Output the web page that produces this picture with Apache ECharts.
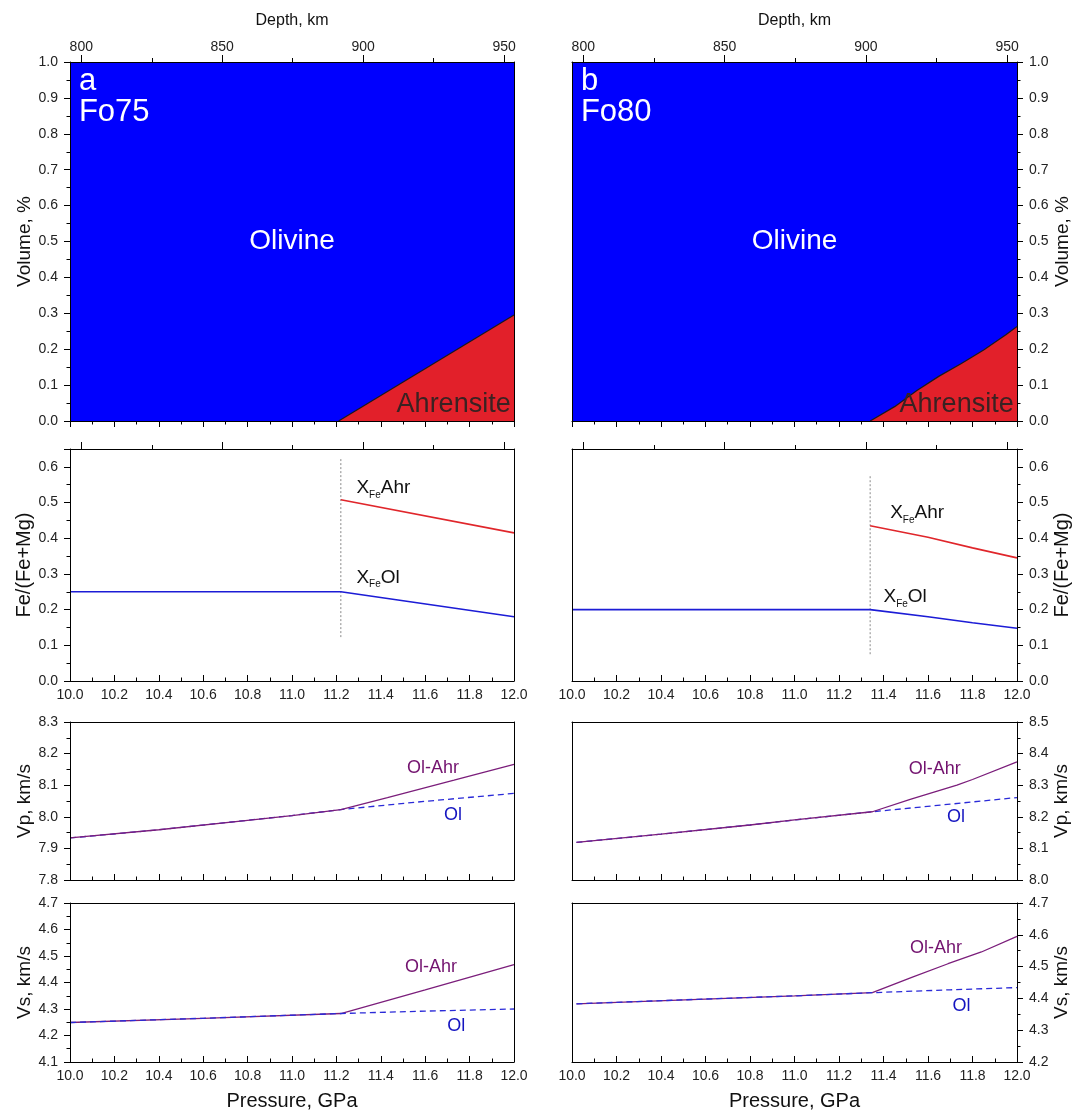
<!DOCTYPE html>
<html>
<head>
<meta charset="utf-8">
<title>Olivine - ahrensite, Fo75 / Fo80</title>
<script src="https://cdn.jsdelivr.net/npm/echarts@6/dist/echarts.min.js"></script>
<style>
  html, body { margin: 0; padding: 0; background: #fff; }
  #chart { width: 1073px; height: 1113px; }
</style>
</head>
<body>
<div id="chart"></div>
<script>
// ---- data: panel a (Fo75) ----
const volOlivineA = [[10, 1], [12, 1]];
const volAhrA = [[11.21, 0], [12, 0.295]];
const feOlA = [[10, 0.25], [11.22, 0.25], [12, 0.18]];
const feAhrA = [[11.22, 0.508], [12, 0.415]];
const boundaryA = [[11.22, 0.123], [11.22, 0.625]];
const vpMixA = [[10, 7.933], [10.4, 7.959], [10.8, 7.989], [11.0, 8.004], [11.22, 8.023], [11.43, 8.061], [11.73, 8.116], [12, 8.166]];
const vpOlA = [[10, 7.933], [10.4, 7.959], [10.8, 7.989], [11.0, 8.004], [11.22, 8.023], [11.6, 8.049], [12, 8.074]];
const vsMixA = [[10, 4.249], [10.6, 4.265], [11.22, 4.283], [11.6, 4.372], [12, 4.467]];
const vsOlA = [[10, 4.249], [10.6, 4.265], [11.22, 4.283], [11.6, 4.292], [12, 4.3]];

// ---- data: panel b (Fo80) ----
const volOlivineB = [[10, 1], [12, 1]];
const volAhrB = [[11.34, 0], [11.45, 0.04], [11.55, 0.085], [11.65, 0.125], [11.75, 0.16], [11.85, 0.198], [11.95, 0.24], [12, 0.263]];
const feOlB = [[10, 0.2], [11.34, 0.2], [11.6, 0.18], [11.8, 0.163], [12, 0.148]];
const feAhrB = [[11.34, 0.435], [11.6, 0.403], [11.8, 0.373], [12, 0.345]];
const boundaryB = [[11.34, 0.075], [11.34, 0.576]];
const vpMixB = [[10.02, 8.119], [10.4, 8.145], [10.8, 8.174], [11.0, 8.19], [11.35, 8.216], [11.52, 8.255], [11.73, 8.3], [11.8, 8.318], [12, 8.374]];
const vpOlB = [[10.02, 8.119], [10.4, 8.145], [10.8, 8.174], [11.0, 8.19], [11.35, 8.216], [11.7, 8.24], [12, 8.261]];
const vsMixB = [[10.02, 4.383], [10.6, 4.398], [11.0, 4.408], [11.35, 4.418], [11.53, 4.467], [11.69, 4.509], [11.84, 4.546], [12, 4.595]];
const vsOlB = [[10.02, 4.383], [10.6, 4.398], [11.0, 4.408], [11.35, 4.418], [11.7, 4.427], [12, 4.434]];

// ---- axes ----
const depthLabels = [800, 850, 900, 950];
const depthMinor = [825, 875, 925];
const depthRange = [796, 953.5];
const pressureRange = [10, 12];
// [min, max, interval] per row, per column
const yRanges = [
  [[0, 1, 0.1], [0, 1, 0.1]],
  [[0, 0.65, 0.1], [0, 0.65, 0.1]],
  [[7.8, 8.3, 0.1], [8.0, 8.5, 0.1]],
  [[4.1, 4.7, 0.1], [4.2, 4.7, 0.1]]
];
const yNames = ['Volume, %', 'Fe/(Fe+Mg)', 'Vp, km/s', 'Vs, km/s'];
const panelTags = [['a', 'Fo75'], ['b', 'Fo80']];

// label anchor points (data coords)
const olivineTextPos = [11.0, 0.5];
const ahrTextPos = [11.985, 0.045];
const tagPos = [[10.04, 0.945], [10.04, 0.86]];
const xfeAhrPos = [[11.29, 0.54], [11.43, 0.47]];
const xfeOlPos = [[11.29, 0.29], [11.40, 0.235]];
const vpMixTextPos = [[11.635, 8.154], [11.63, 8.351]];
const vpOlTextPos = [[11.725, 8.006], [11.726, 8.199]];
const vsMixTextPos = [[11.626, 4.458], [11.636, 4.558]];
const vsOlTextPos = [[11.74, 4.236], [11.75, 4.376]];

const FONT = 'Liberation Sans, Arial, sans-serif';
const cols = [{ left: 70, width: 444 }, { left: 572, width: 445 }];
const rows = [
  { top: 62, height: 359 },
  { top: 449, height: 232 },
  { top: 722, height: 158 },
  { top: 903, height: 159 }
];

const grids = [], xAxes = [], yAxes = [], series = [];
const gi = (r, c) => r * 2 + c;

rows.forEach((r) => {
  cols.forEach((c) => {
    grids.push({
      left: c.left, top: r.top, width: c.width, height: r.height,
      containLabel: false, outerBoundsMode: 'none', show: false
    });
  });
});

// pressure axes (0..7)
for (let ri = 0; ri < 4; ri++) {
  for (let ci = 0; ci < 2; ci++) {
    const showLab = ri === 1 || ri === 3;
    xAxes.push({
      gridIndex: gi(ri, ci), type: 'value', position: 'bottom', z: 10,
      min: pressureRange[0], max: pressureRange[1], interval: 0.2,
      name: ri === 3 ? 'Pressure, GPa' : '', nameLocation: 'middle', nameGap: 29,
      nameTextStyle: { fontSize: 20, color: '#111', fontFamily: FONT },
      axisLine: { show: true, onZero: false, lineStyle: { color: '#000', width: 1 } },
      axisTick: { show: true, inside: ri !== 0, length: 6, lineStyle: { color: '#000' } },
      minorTick: { show: true, splitNumber: 2, length: 3.5, lineStyle: { color: '#000' } },
      axisLabel: { show: showLab, margin: 7, fontSize: 14, color: '#222', fontFamily: FONT,
        formatter: v => v.toFixed(1) },
      splitLine: { show: false }
    });
  }
}
// depth axes, major (8..11)
for (let g = 0; g < 4; g++) {
  xAxes.push({
    gridIndex: g, type: 'value', position: 'top', z: 10,
    min: depthRange[0], max: depthRange[1],
    name: g < 2 ? 'Depth, km' : '', nameLocation: 'middle', nameGap: 33,
    nameTextStyle: { fontSize: 16, color: '#111', fontFamily: FONT },
    axisLine: { show: true, onZero: false, lineStyle: { color: '#000', width: 1 } },
    axisTick: { show: true, inside: false, length: 7, customValues: depthLabels, lineStyle: { color: '#000' } },
    axisLabel: { show: g < 2, customValues: depthLabels, margin: 8, fontSize: 14, color: '#222', fontFamily: FONT },
    splitLine: { show: false }
  });
}
// depth axes, minor (12..15)
for (let g = 0; g < 4; g++) {
  xAxes.push({
    gridIndex: g, type: 'value', position: 'top', z: 10,
    min: depthRange[0], max: depthRange[1],
    axisLine: { show: false, onZero: false },
    axisTick: { show: true, inside: false, length: 4, customValues: depthMinor, lineStyle: { color: '#000' } },
    axisLabel: { show: false },
    splitLine: { show: false }
  });
}
// top frame for velocity panels (16..19)
for (let g = 4; g < 8; g++) {
  xAxes.push({
    gridIndex: g, type: 'value', position: 'top', z: 10, min: 0, max: 1,
    axisLine: { show: true, onZero: false, lineStyle: { color: '#000', width: 1 } },
    axisTick: { show: false }, axisLabel: { show: false }, splitLine: { show: false }
  });
}

// y axes (0..7)
for (let ri = 0; ri < 4; ri++) {
  for (let ci = 0; ci < 2; ci++) {
    const [mn, mx, iv] = yRanges[ri][ci];
    yAxes.push({
      gridIndex: gi(ri, ci), type: 'value', position: ci === 0 ? 'left' : 'right', z: 10,
      min: mn, max: mx, interval: iv,
      name: yNames[ri], nameLocation: 'middle', nameRotate: 90,
      nameGap: ri === 0 ? 36 : 34,
      nameTextStyle: { fontSize: ri === 1 ? 20 : 19, color: '#111', fontFamily: FONT },
      axisLine: { show: true, onZero: false, lineStyle: { color: '#000', width: 1 } },
      axisTick: { show: true, inside: false, length: 6, lineStyle: { color: '#000' } },
      minorTick: { show: true, splitNumber: 2, length: 3.5, lineStyle: { color: '#000' } },
      axisLabel: { show: true, margin: 12, fontSize: 14, color: '#222', fontFamily: FONT,
        showMaxLabel: ri === 1 ? false : true, formatter: v => v.toFixed(1) },
      splitLine: { show: false }
    });
  }
}
// opposite frame y axes (8..15)
for (let ri = 0; ri < 4; ri++) {
  for (let ci = 0; ci < 2; ci++) {
    yAxes.push({
      gridIndex: gi(ri, ci), type: 'value', position: ci === 0 ? 'right' : 'left', z: 10,
      min: 0, max: 1,
      axisLine: { show: true, onZero: false, lineStyle: { color: '#000', width: 1 } },
      axisTick: { show: false }, axisLabel: { show: false }, splitLine: { show: false }
    });
  }
}

function line(g, data, style, extra) {
  return Object.assign({
    type: 'line', xAxisIndex: g, yAxisIndex: g, data: data, symbol: 'none',
    silent: true, lineStyle: style
  }, extra || {});
}
function text(g, pos, fmt, position, style, rich) {
  return {
    type: 'scatter', xAxisIndex: g, yAxisIndex: g, data: [pos], symbolSize: 0,
    silent: true, itemStyle: { color: style.color || '#111', opacity: 1 }, z: 20,
    label: Object.assign({ show: true, position: position, distance: 0, formatter: fmt,
      fontFamily: FONT, textBorderWidth: 0, textShadowBlur: 0, opacity: 1, rich: rich }, style)
  };
}
const subRich = {
  m: { fontSize: 19, lineHeight: 24, color: '#111', fontFamily: FONT },
  s: { fontSize: 10, lineHeight: 10, verticalAlign: 'bottom', color: '#111', fontFamily: FONT }
};

const colData = [
  { volOl: volOlivineA, volAhr: volAhrA, feOl: feOlA, feAhr: feAhrA, bnd: boundaryA,
    vpMix: vpMixA, vpOl: vpOlA, vsMix: vsMixA, vsOl: vsOlA },
  { volOl: volOlivineB, volAhr: volAhrB, feOl: feOlB, feAhr: feAhrB, bnd: boundaryB,
    vpMix: vpMixB, vpOl: vpOlB, vsMix: vsMixB, vsOl: vsOlB }
];

colData.forEach((d, ci) => {
  // volume
  const g0 = gi(0, ci);
  series.push(line(g0, d.volOl, { width: 0, color: '#0000fe' },
    { areaStyle: { color: '#0000fe', opacity: 1 }, z: 1 }));
  series.push(line(g0, d.volAhr, { width: 1.2, color: '#1a1a1a' },
    { areaStyle: { color: '#e2202a', opacity: 1 }, z: 2 }));
  series.push(text(g0, olivineTextPos, 'Olivine', 'inside', { fontSize: 28, color: '#ffffff' }));
  series.push(text(g0, ahrTextPos, 'Ahrensite', 'left', { fontSize: 27, color: '#3a2222' }));
  series.push(text(g0, tagPos[0], panelTags[ci][0], 'right', { fontSize: 31, color: '#ffffff' }));
  series.push(text(g0, tagPos[1], panelTags[ci][1], 'right', { fontSize: 31, color: '#ffffff' }));

  // Fe/(Fe+Mg)
  const g1 = gi(1, ci);
  series.push(line(g1, d.bnd, { width: 1, color: '#8a8a8a', type: [2, 2] }));
  series.push(line(g1, d.feOl, { width: 1.6, color: '#1c1cd6' }));
  series.push(line(g1, d.feAhr, { width: 1.6, color: '#e0262b' }));
  series.push(text(g1, xfeAhrPos[ci], '{m|X}{s|Fe}{m|Ahr}', 'right', { color: '#111' }, subRich));
  series.push(text(g1, xfeOlPos[ci], '{m|X}{s|Fe}{m|Ol}', 'right', { color: '#111' }, subRich));

  // Vp
  const g2 = gi(2, ci);
  series.push(line(g2, d.vpOl, { width: 1.3, color: '#2a2ad8', type: [6, 4] }));
  series.push(line(g2, d.vpMix, { width: 1.3, color: '#7b1e7b' }));
  series.push(text(g2, vpMixTextPos[ci], 'Ol-Ahr', 'inside', { fontSize: 18, color: '#73136f' }));
  series.push(text(g2, vpOlTextPos[ci], 'Ol', 'inside', { fontSize: 18, color: '#1414c0' }));

  // Vs
  const g3 = gi(3, ci);
  series.push(line(g3, d.vsMix, { width: 1.3, color: '#7b1e7b' }));
  series.push(line(g3, d.vsOl, { width: 1.3, color: '#2a2ad8', type: [6, 4] }));
  series.push(text(g3, vsMixTextPos[ci], 'Ol-Ahr', 'inside', { fontSize: 18, color: '#73136f' }));
  series.push(text(g3, vsOlTextPos[ci], 'Ol', 'inside', { fontSize: 18, color: '#1414c0' }));
});

const chart = echarts.init(document.getElementById('chart'), null, { renderer: 'canvas' });
chart.setOption({
  animation: false,
  backgroundColor: '#fff',
  textStyle: { fontFamily: FONT },
  grid: grids,
  xAxis: xAxes,
  yAxis: yAxes,
  series: series
});
</script>
</body>
</html>
